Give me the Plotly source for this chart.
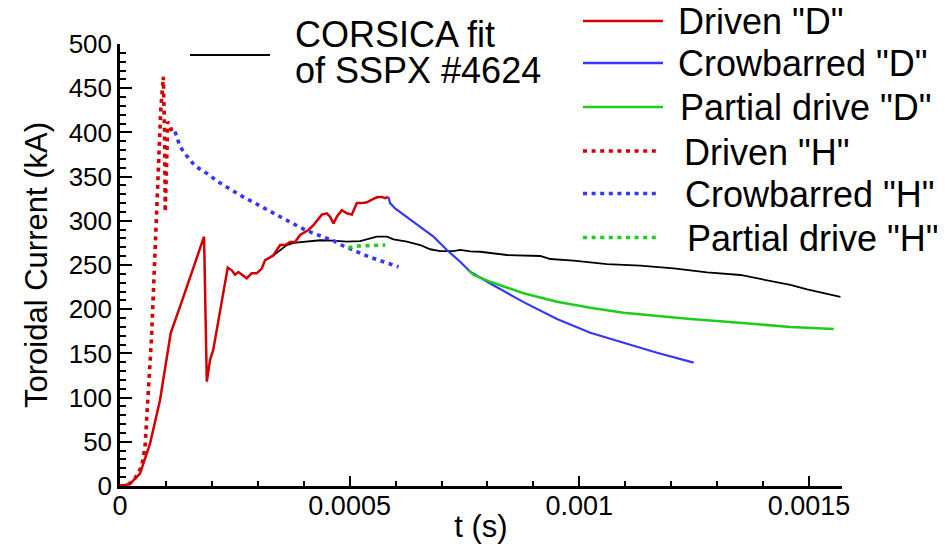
import plotly.graph_objects as go

# ---------------- data (t in seconds, current in kA) ----------------
corsica_t = [0.0003305, 0.0003486, 0.0003632, 0.0003776, 0.0004068, 0.0004357, 0.0004647, 0.0004939,
             0.0005229, 0.0005447, 0.0005593, 0.000581, 0.0005954, 0.0006246, 0.0006536, 0.0006754,
             0.0006972, 0.0007261, 0.0007407, 0.0007625, 0.0007843, 0.0008425, 0.000915, 0.0009368,
             0.0009876, 0.0010603, 0.0011329, 0.0012054, 0.0012782, 0.0013508, 0.0014233, 0.0014597,
             0.0014961, 0.0015322, 0.0015686]
corsica_i = [259.4, 267, 272.6, 275, 276.4, 278, 277.5, 276.4,
             277, 280, 282, 282, 279, 276.4, 272.6, 267.8,
             265.8, 265.8, 267, 265.5, 265, 261.3, 260.2, 256.8,
             254.9, 251, 249.2, 246.2, 241.7, 238.7, 231, 227.4,
             222.5, 218, 214]

driven_d_t = [0, 0.0000218, 0.0000436, 0.0000654, 0.0000871, 0.0001017, 0.0001104, 0.0001307,
              0.0001597, 0.000183, 0.000189, 0.000196, 0.000203, 0.000218, 0.0002346, 0.0002434,
              0.0002505, 0.0002577, 0.0002651, 0.000276, 0.0002869, 0.0002978, 0.0003087, 0.0003159,
              0.0003268, 0.000334, 0.0003486, 0.0003595, 0.0003704, 0.0003813, 0.0003922, 0.0004102,
              0.0004211, 0.0004394, 0.0004503, 0.0004575, 0.0004647, 0.0004721, 0.000483, 0.0004939,
              0.0005048, 0.0005157, 0.0005266, 0.0005375, 0.0005484, 0.0005593, 0.0005701, 0.0005773,
              0.0005845]
driven_d_i = [0, 2.3, 14, 48, 97, 146, 173, 203,
              248, 282, 118, 142.5, 154, 199, 247, 244,
              239, 242, 239, 235, 240.6, 240.6, 246, 255.6,
              258.7, 261, 272.6, 272.6, 276, 276, 284, 289.6,
              295, 307, 308.5, 304.6, 297, 304.6, 312, 308.5,
              307, 320, 320, 321, 324, 326.6, 327, 325.5,
              327]

crowbar_d_t = [0.0005845, 0.000588, 0.000599, 0.0006246, 0.0006536, 0.0006826, 0.0007118, 0.0007407,
               0.0007625, 0.0008061, 0.0008787, 0.0009514, 0.001024, 0.0010965, 0.0011693, 0.001249]
crowbar_d_i = [327, 320, 314, 304.6, 293, 282, 267, 253.7,
               242.4, 229, 208, 189, 173.4, 162, 150.8, 139.5]

partial_d_t = [0.0007588, 0.00077, 0.0008061, 0.0008787, 0.0009514, 0.001024, 0.0010965, 0.0011693,
               0.0012418, 0.0013144, 0.0013871, 0.0014597, 0.001554]
partial_d_i = [244, 238.7, 231, 218, 208.5, 201.7, 196, 192.3,
               189, 186, 183, 180, 177.6]

driven_h_t = [0, 0.000011, 0.000022, 0.000033, 0.000047, 0.0000545, 0.000058, 0.000062, 0.0000654,
              0.0000683, 0.0000712, 0.000074, 0.000077, 0.00008, 0.0000835, 0.0000887, 0.0000943,
              0.000097, 0.0000985, 0.0001, 0.000102, 0.000104, 0.000107, 0.00011, 0.000113]
driven_h_i = [0, 0, 3, 9, 22, 44, 75, 105, 135,
              165, 200, 235, 270, 305, 365, 425, 463,
              400, 310, 345, 385, 412, 410, 404, 401]

crowbar_h_t = [0.0001198, 0.0001307, 0.0001438, 0.0001634, 0.0001889, 0.0002142, 0.0002614, 0.000305,
               0.0003486, 0.0003704, 0.0003922, 0.0004176, 0.0004429, 0.0004647, 0.0004865, 0.0005157,
               0.0005447, 0.0005736, 0.0006063]
crowbar_h_i = [401, 384, 374.4, 362, 353.7, 344, 329, 316.5,
               304, 297.8, 292.5, 286.6, 282, 277.5, 271.5, 265,
               258.7, 253.7, 248]

partial_h_t = [0.0004974, 0.0005192, 0.000541, 0.0005593, 0.0005773]
partial_h_i = [269.6, 271.5, 271.9, 272.3, 272.6]

x_tickvals = [0, 0.0005, 0.001, 0.0015]
x_ticktext = ["0", "0.0005", "0.001", "0.0015"]

legend_labels = ['Driven "D"', 'Crowbarred "D"', 'Partial drive "D"',
                 'Driven "H"', 'Crowbarred "H"', 'Partial drive "H"']
corsica_label = ["CORSICA fit", "of SSPX #4624"]

# ---------------- style ----------------
RED = "#D20000"
BLUE = "#3636FF"
GREEN = "#1ECC1E"
DOT = "4px,4.6px"
FONT = "Liberation Sans, Arial, sans-serif"

series = [
    (corsica_t, corsica_i, "black", 1.8, "solid", "CORSICA fit of SSPX #4624"),
    (driven_d_t, driven_d_i, RED, 2.5, "solid", legend_labels[0]),
    (crowbar_d_t, crowbar_d_i, BLUE, 2.2, "solid", legend_labels[1]),
    (partial_d_t, partial_d_i, GREEN, 2.5, "solid", legend_labels[2]),
    (driven_h_t, driven_h_i, RED, 3.6, DOT, legend_labels[3]),
    (crowbar_h_t, crowbar_h_i, BLUE, 3.6, DOT, legend_labels[4]),
    (partial_h_t, partial_h_i, GREEN, 3.6, DOT, legend_labels[5]),
]

fig = go.Figure()
for t, i, c, w, d, name in series:
    fig.add_trace(go.Scatter(x=t, y=i, mode="lines", name=name,
                             line=dict(color=c, width=w, dash=d), showlegend=False))

# page offset (default body margin) and plot area in window pixels
OFF = 8
WIN_W, WIN_H = 945, 544
W, H = WIN_W - OFF, WIN_H - OFF
L, R, T, B = 120 - OFF, 842 - OFF, 44 - OFF, 486 - OFF


def px(x):
    return (x - OFF - L) / (R - L)


def py(y):
    return (B - (y - OFF)) / (B - T)


shapes = []
annotations = []

# CORSICA legend block
shapes.append(dict(type="line", xref="paper", yref="paper", x0=px(190), x1=px(270),
                   y0=py(55), y1=py(55), line=dict(color="black", width=1.8)))
for txt, yc in zip(corsica_label, [34.5, 70]):
    annotations.append(dict(text=txt, xref="paper", yref="paper", x=px(293), y=py(yc),
                            xanchor="left", yanchor="middle", showarrow=False,
                            font=dict(family=FONT, size=36, color="black")))

# right legend block
leg_colors = [RED, BLUE, GREEN, RED, BLUE, GREEN]
leg_dash = ["solid", "solid", "solid", DOT, DOT, DOT]
leg_width = [2.5, 2.5, 2.5, 3.6, 3.6, 3.6]
leg_line_y = [21, 63, 107, 151, 193.5, 237.5]
leg_text_y = [22, 63.5, 107.5, 152, 194.5, 238.5]
leg_text_x = [676, 676, 678, 682, 683, 685]
leg_line_x1 = [663, 663, 663, 660, 660, 660]
for k in range(6):
    shapes.append(dict(type="line", xref="paper", yref="paper", x0=px(583), x1=px(leg_line_x1[k]),
                       y0=py(leg_line_y[k]), y1=py(leg_line_y[k]),
                       line=dict(color=leg_colors[k], width=leg_width[k], dash=leg_dash[k])))
    annotations.append(dict(text=legend_labels[k], xref="paper", yref="paper",
                            x=px(leg_text_x[k]), y=py(leg_text_y[k]),
                            xanchor="left", yanchor="middle", showarrow=False,
                            font=dict(family=FONT, size=36, color="black")))

fig.update_layout(
    width=W, height=H,
    margin=dict(l=L, r=W - R, t=T, b=H - B, pad=0, autoexpand=False),
    plot_bgcolor="white", paper_bgcolor="white",
    font=dict(family=FONT, color="black"),
    shapes=shapes, annotations=annotations,
    showlegend=False,
)
fig.update_xaxes(
    automargin=False,
    range=[0, 0.001572], tickvals=x_tickvals, ticktext=x_ticktext,
    ticks="inside", ticklen=10, tickwidth=2, tickcolor="black", ticklabelstandoff=-6,
    minor=dict(dtick=0.0001, ticks="inside", ticklen=5, tickwidth=1.5, tickcolor="black"),
    showline=True, linecolor="black", linewidth=2.5, showgrid=False, zeroline=False,
    tickfont=dict(family=FONT, size=27, color="black"),
    title=dict(text="t (s)", font=dict(family=FONT, size=31, color="black"), standoff=0),
)
fig.update_yaxes(
    automargin=False,
    range=[0, 500], dtick=50, tick0=0,
    ticks="inside", ticklen=12, tickwidth=2, tickcolor="black",
    minor=dict(dtick=10, ticks="inside", ticklen=6, tickwidth=1.5, tickcolor="black"),
    showline=True, linecolor="black", linewidth=2.5, showgrid=False, zeroline=False,
    tickfont=dict(family=FONT, size=26, color="black"),
    title=dict(text="Toroidal Current (kA)", font=dict(family=FONT, size=31, color="black"), standoff=12),
)

fig.write_html("out.html")
